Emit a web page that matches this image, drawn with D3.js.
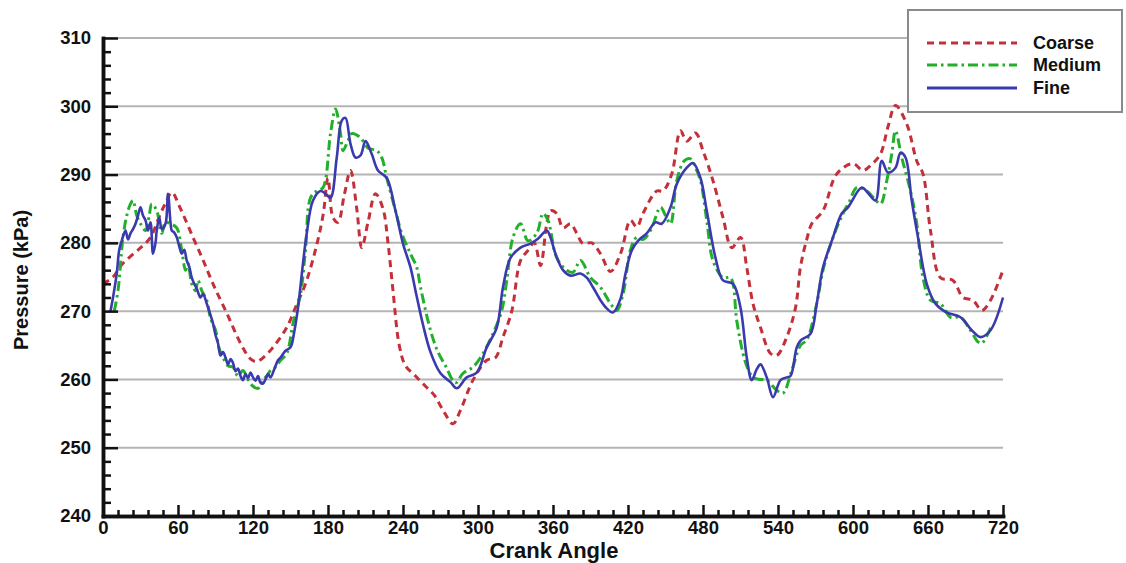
<!DOCTYPE html>
<html>
<head>
<meta charset="utf-8">
<script src="https://cdn.jsdelivr.net/npm/d3@7"></script>
<style>
  html, body { margin: 0; padding: 0; background: #fff; }
  svg { display: block; }
  text { font-family: "Liberation Sans", Arial, Helvetica, sans-serif; font-weight: bold; fill: #111; }
</style>
</head>
<body>
<svg id="chart" width="1126" height="563"></svg>
<script>
// Crank angle (deg) and pressure (kPa) for the three mesh resolutions
const coarseAngle = [0,8,15,25,32,38,46,50,55,62,72,80,88,99,110,118,123,130,136,147,155,162,170,176,180,184,188,193,198,203,207,212,218,224,228,232,237,242,250,258,265,272,280,286,296,307,314,320,327,334,340,345,350,355,358,363,368,374,379,384,391,398,406,414,422,427,432,443,448,455,462,467,474,480,488,496,503,510,515,520,526,534,539,547,554,558,563,567,576,587,600,608,615,622,628,634,643,651,656,662,670,680,688,696,703,710,720];
const coarsePressure = [274,275,276.8,278.5,279.6,280.8,284.3,285.8,287.4,285,280.8,277.5,274,269.7,265.3,263,262.6,263.5,264.7,267.6,271,274,279,284,289.5,283.7,283,287,290.6,285,279.3,283,287.2,285,280,273,265,262,260.5,259,257.7,255.5,253.5,255.5,259.9,262.8,263.2,266.2,270,277.4,278.9,280,276.7,282.8,284.7,284.3,282.2,282.8,281.4,279.9,280,278.4,275.8,278.4,283.3,282.3,284.3,287.6,287.6,290.1,296.4,294.9,296.1,293.5,289.1,283.7,279.3,280.8,276.4,271.1,267.6,263.8,263.5,266.2,270.5,276.5,280.5,282.8,284.7,290.1,291.6,290.6,291.5,293,297,300.1,297.4,292,290.1,281.8,274.9,274.5,272,271.6,270.1,271.6,276];

const mediumAngle = [9,12,16,19,22,24,27,30,34,37,39,43,47,50,54,59,63,66,68,71,74,76,79,83,86,90,93,96,100,104,108,112,116,120,124,128,131,134,138,142,147,152,158,162,166,171,176,182,186,190,192,196,199,206,212,219,223,227,234,239,246,251,254,262,268,274,282,288,296,304,312,319,323,328,334,340,347,352,356,363,371,376,382,390,398,406,411,416,422,427,432,438,446,450,454,459,465,470,474,478,483,488,496,502,507,512,516,520,526,531,539,544,551,558,563,571,576,584,592,597,603,611,617,622,627,631,634,639,646,651,656,662,670,678,686,694,700,703,708,711];
const mediumPressure = [270,273,280.8,284,285.7,286.2,284,282.8,281.8,284,285.7,284.7,281.4,283,282.8,282.2,278.9,276,277,274,273,274.5,273,271.6,269,267.2,264.5,263.2,262,261.8,260.5,261.3,260,259,258.7,259.9,260.5,261.3,261.8,262.8,263.8,268.2,272.5,279,286.6,287.6,288.1,296,299.6,296,293.5,295,296,295.4,293.9,293.5,292.5,289.5,284.7,281.4,278.4,276.4,273.5,267.2,264,262,259.5,260.9,261.8,263.8,266.7,270.1,274.5,280.8,282.8,280.3,281.4,284.3,283.3,277.8,276,275.7,277.4,274.9,273.5,271.1,270.1,272.5,279,280.8,280.5,281.8,285.2,284,282.8,289.1,292,292.3,291,289.1,283.3,277.4,274.9,274.9,268.6,263.8,261.5,260.3,260,259.9,258.4,258,261.3,265,265.8,271.1,276,280.8,284.3,286,288.1,287.6,286.5,285.7,289.1,293,296.4,292.5,287.6,282.8,274.9,271.6,271.1,269.1,269.1,267.2,265.5,265.3,266.7,268];

const fineAngle = [6,8,11,13,15,18,20,22,24,26,28,30,32,34,36,38,40,42,43,45,47,50,52,54,55,57,59,61,63,65,67,69,71,73,75,78,80,83,85,88,90,92,94,96,98,100,102,104,106,108,110,112,114,116,118,120,122,124,126,128,130,132,134,137,140,142,146,150,153,156,160,163,168,174,178,182,187,191,194,198,202,206,210,215,220,227,234,240,246,250,256,262,270,278,283,291,299,307,315,320,326,334,342,348,355,358,362,368,374,382,387,392,398,403,408,414,418,423,428,435,442,447,454,459,467,472,478,483,490,496,504,510,515,519,523,526,531,536,542,547,550,555,558,566,571,576,584,591,596,607,612,618,623,628,634,638,642,647,652,659,666,675,686,695,702,710,720];
const finePressure = [270,272,275.5,279,280.3,281.8,280.5,281.4,282,282.8,284,285.2,284,283.3,281.8,283,278.4,280,281.8,283.7,282,282.8,287.2,283,281.8,281.5,280.8,279.5,278.4,279,277.4,276.5,274.9,274,273.3,272,272.5,271.1,270,268.2,266.5,265.3,263.5,264,263.2,262.2,263,262.4,261.2,261.6,260.5,259.9,260.8,260.2,261,260.3,259.8,260.5,259.5,259.4,260,260.8,260.3,261.5,262.8,263.2,264.2,264.7,267,270.5,277,281.4,286.2,287.6,287.2,286.6,292.5,297.9,298.3,294.5,292.5,292.8,294.9,293,290.6,289.5,284.7,279.9,276.4,273,268,264,260.9,259.6,258.7,260.3,261,264.7,267.6,273.5,277.8,279.3,279.9,280.6,281.8,280.8,278.4,276,275.2,275.5,274.9,273.5,271.6,270.4,269.8,271.8,275.5,278.9,280.3,281.4,283,282.8,285.2,288.6,291,291.7,289.5,284.7,277.8,274.5,274,270.5,263.2,259.9,261.5,262.2,260.3,257.4,259.9,260.3,260.5,264.7,265.7,266.7,271.1,276.4,280.8,284.3,285.2,288.1,287.3,286.2,292,290.3,291,293.2,292.5,286.2,280.8,274,271.1,269.8,269.1,267.2,266.2,267.2,272];

const seriesNames = ["Coarse", "Medium", "Fine"];
const seriesColors = ["#c3303a", "#22b02a", "#3a3aae"];
const seriesDash = ["7,5", "10,4,2.5,4", null];

const xTicks = [0,60,120,180,240,300,360,420,480,540,600,660,720];
const yTicks = [240,250,260,270,280,290,300,310];

const svg = d3.select("#chart");
svg.append("rect").attr("width", 1126).attr("height", 563).attr("fill", "#fff");

const x = d3.scaleLinear().domain([0, 720]).range([103, 1003]);
const y = d3.scaleLinear().domain([240, 310]).range([516, 38]);

// horizontal grid
svg.append("g")
  .selectAll("line")
  .data(yTicks.filter(v => v > 240))
  .join("line")
  .attr("x1", x(0)).attr("x2", x(720))
  .attr("y1", d => y(d)).attr("y2", d => y(d))
  .attr("stroke", "#b4b4b4").attr("stroke-width", 2);

// curves
const series = [
  { a: coarseAngle, p: coarsePressure },
  { a: mediumAngle, p: mediumPressure },
  { a: fineAngle, p: finePressure }
];
const line = d3.line()
  .x(d => x(d[0]))
  .y(d => y(d[1]))
  .curve(d3.curveCatmullRom.alpha(0.5));

const curves = svg.append("g");
series.forEach((s, i) => {
  const pts = s.a.map((a, k) => [a, s.p[k]]);
  curves.append("path")
    .datum(pts)
    .attr("d", line)
    .attr("fill", "none")
    .attr("stroke", seriesColors[i])
    .attr("stroke-width", i === 2 ? 2.6 : 3)
    .attr("stroke-linejoin", "round")
    .attr("stroke-dasharray", seriesDash[i]);
});

// axes: major and minor ticks point into the plot
const minorY = d3.range(240, 311, 2).filter(v => v % 10 !== 0);
const minorX = d3.range(0, 721, 12).filter(v => v % 60 !== 0);

svg.append("g").attr("transform", `translate(${x(0)},0)`)
  .call(d3.axisLeft(y).tickValues(yTicks).tickSizeInner(-15).tickSizeOuter(0).tickPadding(12).tickFormat(d3.format("d")));
svg.append("g").attr("transform", `translate(${x(0)},0)`)
  .call(d3.axisLeft(y).tickValues(minorY).tickSizeInner(-8).tickSizeOuter(0).tickFormat(""));

svg.append("g").attr("transform", `translate(0,${y(240)})`)
  .call(d3.axisBottom(x).tickValues(xTicks).tickSizeInner(-11).tickSizeOuter(0).tickPadding(5).tickFormat(d3.format("d")));
svg.append("g").attr("transform", `translate(0,${y(240)})`)
  .call(d3.axisBottom(x).tickValues(minorX).tickSizeInner(-6).tickSizeOuter(0).tickFormat(""));

svg.selectAll(".domain").attr("stroke", "#111").attr("stroke-width", 3.5).attr("stroke-linecap", "square");
svg.selectAll(".tick line").attr("stroke", "#111").attr("stroke-width", 2.5);
svg.selectAll(".tick text").attr("font-size", 18.5).attr("font-weight", "bold").attr("fill", "#1a1a1a")
  .attr("font-family", "'Liberation Sans', Arial, sans-serif");

// axis titles
svg.append("text")
  .attr("x", 554).attr("y", 558)
  .attr("text-anchor", "middle")
  .attr("font-size", 22)
  .text("Crank Angle");

svg.append("text")
  .attr("transform", "translate(28,280) rotate(-90)")
  .attr("text-anchor", "middle")
  .attr("font-size", 20)
  .text("Pressure (kPa)");

// legend
const legend = svg.append("g");
legend.append("rect")
  .attr("x", 908).attr("y", 10).attr("width", 214).attr("height", 102)
  .attr("fill", "#fff").attr("stroke", "#8a8a8a").attr("stroke-width", 2);
const rowY = [43, 65, 88];
seriesNames.forEach((name, i) => {
  legend.append("line")
    .attr("x1", 927).attr("x2", 1017)
    .attr("y1", rowY[i]).attr("y2", rowY[i])
    .attr("stroke", seriesColors[i])
    .attr("stroke-width", 3)
    .attr("stroke-dasharray", seriesDash[i]);
  legend.append("text")
    .attr("x", 1033).attr("y", rowY[i] + 6)
    .attr("font-size", 18)
    .text(name);
});
</script>
</body>
</html>
